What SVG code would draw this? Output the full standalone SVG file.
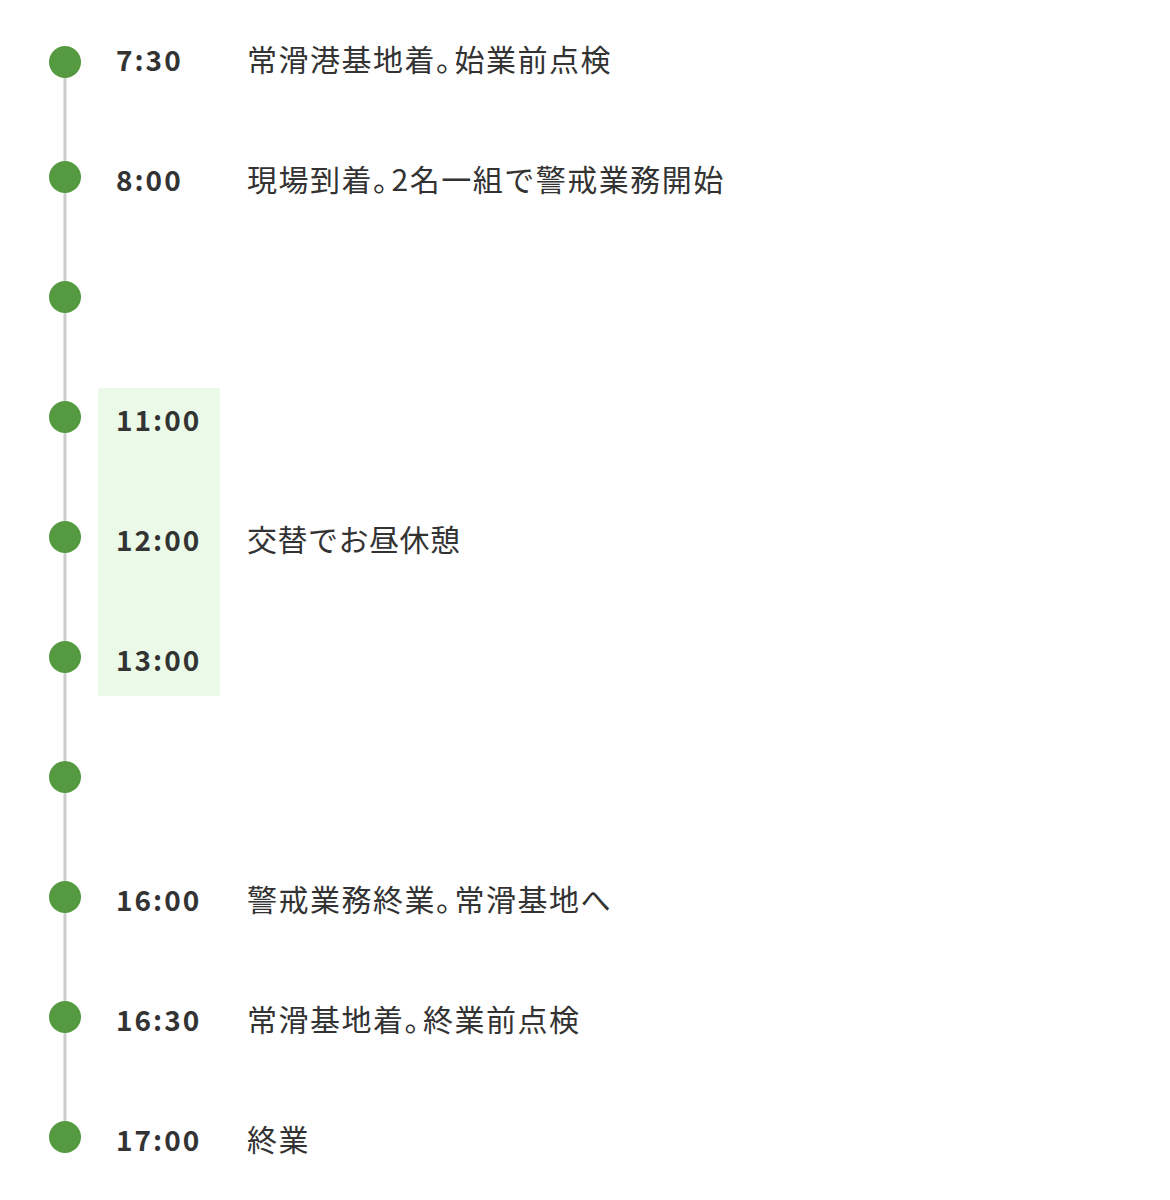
<svg xmlns="http://www.w3.org/2000/svg" width="1170" height="1200" viewBox="0 0 1170 1200">
  <style>
    .dot { fill: #559941; }
    .rail { stroke: #cccccc; stroke-width: 3; fill: none; }
    .time { font-family: "Noto Sans CJK JP", "Noto Sans", sans-serif; font-size: 28px; font-weight: 700; fill: #333333; letter-spacing: 2px; }
    .desc { font-family: "Noto Sans CJK JP", "Noto Sans", sans-serif; font-size: 30px; font-weight: 400; fill: #333333; letter-spacing: 1.5px; }
    .tight { letter-spacing: 0.5px; }
  </style>
  <rect width="1170" height="1200" fill="#ffffff"/>

  <!-- lunch break band -->
  <rect x="98" y="388" width="122" height="308" fill="#ebfae8"/>

  <g id="connectors">
    <line class="rail" x1="65" y1="62" x2="65" y2="1137"/>
  </g>

  <!-- the ideographic full stop is set half-width: the glyph after it is pulled back -->
  <g id="n0730"><circle class="dot" cx="65" cy="62" r="16"/><text class="time" x="116" y="71">7:30</text><text class="desc" x="247" y="71">常滑港基地着。<tspan dx="-13">始業前点検</tspan></text></g>
  <g id="n0800"><circle class="dot" cx="65" cy="177" r="16"/><text class="time" x="116" y="191">8:00</text><text class="desc" x="247" y="191">現場到着。<tspan dx="-13">2名一組で警戒業務開始</tspan></text></g>
  <g id="n0900"><circle class="dot" cx="65" cy="297" r="16"/></g>
  <g id="n1100"><circle class="dot" cx="65" cy="417" r="16"/><text class="time" x="116" y="431">11:00</text></g>
  <g id="n1200"><circle class="dot" cx="65" cy="537" r="16"/><text class="time" x="116" y="551">12:00</text><text class="desc tight" x="247" y="551">交替でお昼休憩</text></g>
  <g id="n1300"><circle class="dot" cx="65" cy="657" r="16"/><text class="time" x="116" y="671">13:00</text></g>
  <g id="n1400"><circle class="dot" cx="65" cy="777" r="16"/></g>
  <g id="n1600"><circle class="dot" cx="65" cy="897" r="16"/><text class="time" x="116" y="911">16:00</text><text class="desc" x="247" y="911">警戒業務終業。<tspan dx="-13">常滑基地へ</tspan></text></g>
  <g id="n1630"><circle class="dot" cx="65" cy="1017" r="16"/><text class="time" x="116" y="1031">16:30</text><text class="desc" x="247" y="1031">常滑基地着。<tspan dx="-13">終業前点検</tspan></text></g>
  <g id="n1700"><circle class="dot" cx="65" cy="1137" r="16"/><text class="time" x="116" y="1151">17:00</text><text class="desc" x="247" y="1151">終業</text></g>
</svg>
